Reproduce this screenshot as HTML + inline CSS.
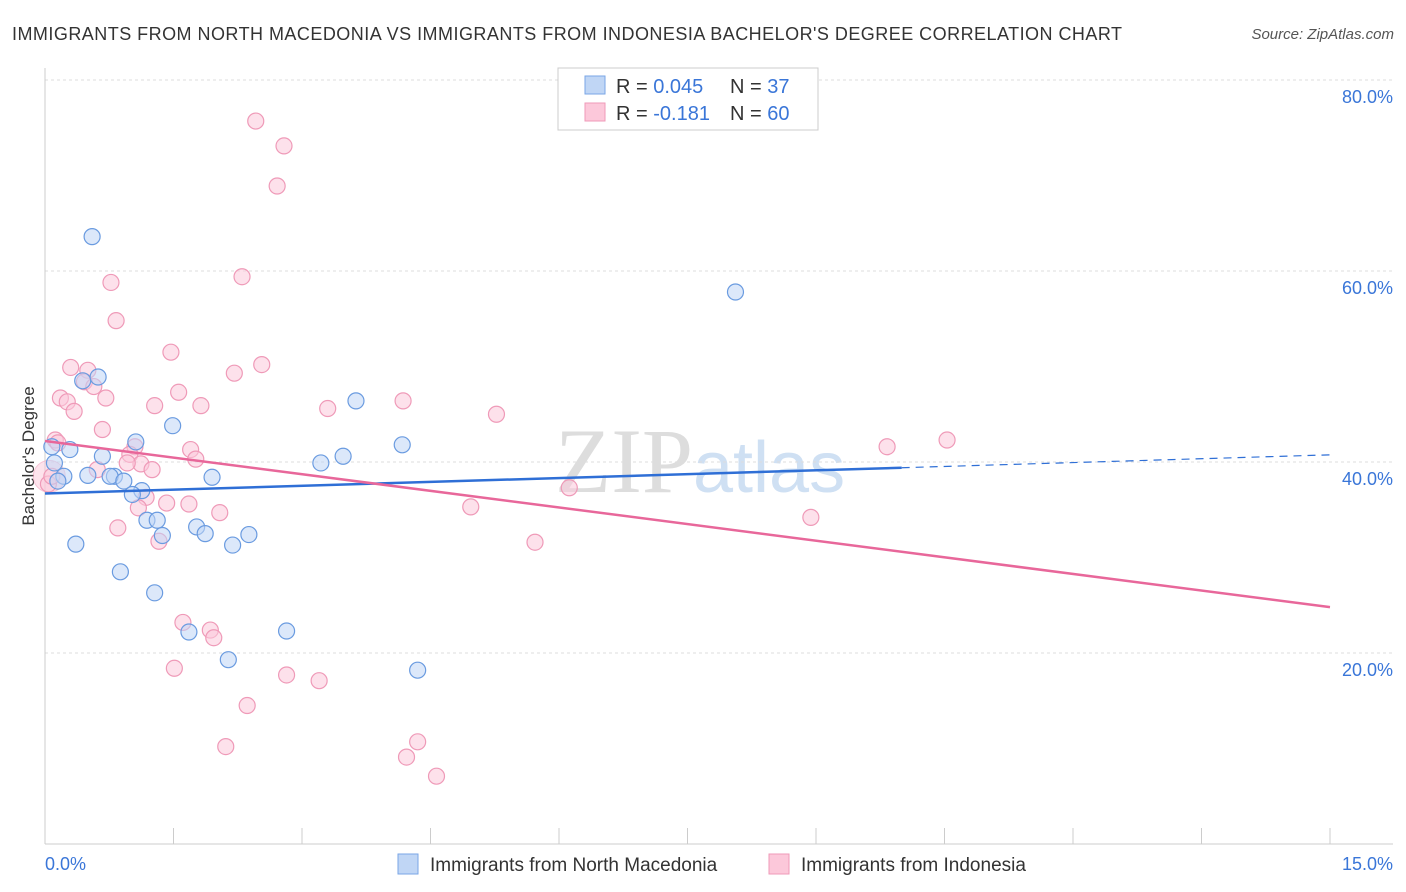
<!DOCTYPE html>
<html><head><meta charset="utf-8"><style>
body{margin:0;background:#fff;font-family:"Liberation Sans",sans-serif}
svg{display:block}
</style></head><body>
<svg id="c" width="1406" height="892">
<text x="12" y="40" font-size="18" fill="#333" textLength="1110">IMMIGRANTS FROM NORTH MACEDONIA VS IMMIGRANTS FROM INDONESIA BACHELOR'S DEGREE CORRELATION CHART</text>
<text x="1394" y="39" font-size="15" fill="#555" font-style="italic" text-anchor="end">Source: ZipAtlas.com</text>
<text x="34" y="456" font-size="17" fill="#333" text-anchor="middle" transform="rotate(-90 34 456)">Bachelor's Degree</text>
<text x="555" y="492" font-size="92" fill="#ddd" font-family="Liberation Serif">ZIP<tspan fill="#cfe0f3" font-family="Liberation Sans" font-size="72">atlas</tspan></text>
<g id="grid"></g><g id="pts"></g><g id="lines"></g>
<g>
<rect x="558" y="68" width="260" height="62" fill="#fff" stroke="#ccc"/>
<rect x="585" y="76" width="20" height="18" fill="#c0d6f5" stroke="#7aa6e6"/>
<rect x="585" y="103" width="20" height="18" fill="#fcc8da" stroke="#ef9ab8"/>
<text x="616" y="93" font-size="20" fill="#333">R = <tspan fill="#3a76d8">0.045</tspan></text>
<text x="730" y="93" font-size="20" fill="#333">N = <tspan fill="#3a76d8">37</tspan></text>
<text x="616" y="120" font-size="20" fill="#333">R = <tspan fill="#3a76d8">-0.181</tspan></text>
<text x="730" y="120" font-size="20" fill="#333">N = <tspan fill="#3a76d8">60</tspan></text>
</g>
<g>
<rect x="398" y="854" width="20" height="20" fill="#c0d6f5" stroke="#7aa6e6"/>
<text x="430" y="871" font-size="19" fill="#333">Immigrants from North Macedonia</text>
<rect x="769" y="854" width="20" height="20" fill="#fcc8da" stroke="#ef9ab8"/>
<text x="801" y="871" font-size="19" fill="#333">Immigrants from Indonesia</text>
</g>
<text x="45" y="870" font-size="18" fill="#3a76d8">0.0%</text>
<text x="1393" y="870" font-size="18" fill="#3a76d8" text-anchor="end">15.0%</text>
</svg>
<script>
const yTicks=[20,40,60,80];
const yTickLabels=["20.0%","40.0%","60.0%","80.0%"];
const blueX=[0.55,8.06,0.62,0.44,3.63,1.49,4.17,1.06,0.29,0.67,0.08,3.48,3.22,0.11,1.95,0.22,0.50,0.81,0.76,0.92,1.13,1.02,0.15,1.19,1.31,1.77,1.87,1.37,2.38,2.19,0.36,0.88,1.28,1.68,2.82,2.14,4.35];
const blueY=[63.6,57.8,48.9,48.5,46.4,43.8,41.8,42.1,41.3,40.6,41.6,40.6,39.9,39.9,38.4,38.5,38.6,38.5,38.5,38.0,37.0,36.6,38.0,33.9,33.9,33.2,32.5,32.3,32.4,31.3,31.4,28.5,26.3,22.2,22.3,19.3,18.2];
const pinkX=[2.46,2.79,2.71,2.30,0.77,0.83,1.47,2.53,2.21,0.30,0.50,0.46,0.57,1.56,0.18,0.26,0.71,1.28,1.82,0.34,3.30,4.18,5.27,0.67,0.12,0.15,1.70,1.76,1.05,0.99,1.12,0.96,0.61,1.25,1.18,1.42,1.68,1.09,2.04,0.85,4.97,6.12,9.83,10.53,8.94,5.72,1.33,1.61,1.93,1.97,1.51,2.82,3.20,2.36,2.11,4.35,4.22,4.57,0.04,0.08];
const pinkY=[75.7,73.1,68.9,59.4,58.8,54.8,51.5,50.2,49.3,49.9,49.6,48.4,47.9,47.3,46.7,46.3,46.7,45.9,45.9,45.3,45.6,46.4,45.0,43.4,42.3,42.0,41.3,40.3,41.6,40.8,39.8,39.9,39.2,39.2,36.3,35.7,35.6,35.2,34.7,33.1,35.3,37.3,41.6,42.3,34.2,31.6,31.7,23.2,22.4,21.6,18.4,17.7,17.1,14.5,10.2,10.7,9.1,7.1,37.7,38.5];
const blueTrend=[36.7,0.27];
const pinkTrend=[42.2,-1.16];
const X=v=>45+v/15*1285, Y=v=>844-v/20*191;
const ns="http://www.w3.org/2000/svg";
function mk(t,a,p){const e=document.createElementNS(ns,t);for(const k in a)e.setAttribute(k,a[k]);p.appendChild(e);return e;}
const g=document.getElementById('grid');
yTicks.forEach((t,i)=>{
 const l=mk('line',{x1:45,x2:1393,y1:Y(t),y2:Y(t),stroke:'#ddd','stroke-dasharray':'3,3'},g);
 
 
 const tx=mk('text',{x:1393,y:Y(t)+23,'font-size':18,fill:'#3a76d8','text-anchor':'end'},g);
 tx.textContent=yTickLabels[i];
 
 
});
mk('line',{x1:45,x2:45,y1:68,y2:844,stroke:'#ccc'},g);
mk('line',{x1:45,x2:1393,y1:844,y2:844,stroke:'#ccc'},g);
for(let i=0;i<=10;i++){const xx=X(i*1.5);const t=mk('line',{x1:xx,x2:xx,y1:828,y2:844,stroke:'#ccc'},g);}
const p=document.getElementById('pts');
mk('circle',{cx:X(0.05),cy:Y(38.5),r:16,fill:'#fcc8da','fill-opacity':0.5,stroke:'#ef9ab8','stroke-opacity':0.5},p);
pinkX.forEach((v,i)=>{const c=mk('circle',{cx:X(v),cy:Y(pinkY[i]),r:8,fill:'#fcc8da','fill-opacity':0.55,stroke:'#ef9ab8','stroke-width':1.2},p);
 
 });
blueX.forEach((v,i)=>{const c=mk('circle',{cx:X(v),cy:Y(blueY[i]),r:8,fill:'#c0d6f5','fill-opacity':0.55,stroke:'#6a9be0','stroke-width':1.2},p);
 
 });
const L=document.getElementById('lines');
const [ba,bb]=blueTrend,[pa,pb]=pinkTrend;
let e=mk('line',{x1:X(0),y1:Y(ba),x2:X(10),y2:Y(ba+bb*10),stroke:'#2f6fd6','stroke-width':2.5},L);


e=mk('line',{x1:X(10),y1:Y(ba+bb*10),x2:X(15),y2:Y(ba+bb*15),stroke:'#2f6fd6','stroke-width':1.2,'stroke-dasharray':'8,6'},L);


e=mk('line',{x1:X(0),y1:Y(pa),x2:X(15),y2:Y(pa+pb*15),stroke:'#e8679a','stroke-width':2.5},L);


</script>
</body></html>
